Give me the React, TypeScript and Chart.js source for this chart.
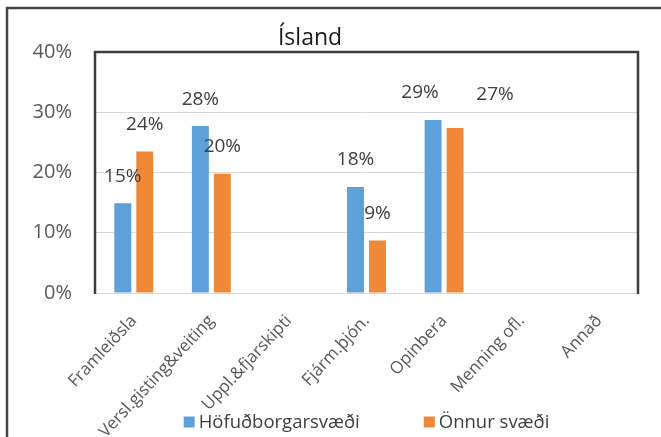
import { useEffect, useRef } from 'react';
import { Chart, registerables } from 'chart.js';

Chart.register(...registerables);

const chartTitle = 'Ísland';
const categories = [
  'Framleiðsla',
  'Versl.gisting&veiting',
  'Uppl.&fjarskipti',
  'Fjárm.þjón.',
  'Opinbera',
  'Menning ofl.',
  'Annað',
];
const seriesNames = ['Höfuðborgarsvæði', 'Önnur svæði'];
const hofudborgarsvaedi = [14.9, 27.7, null, 17.6, 28.7, null, null];
const onnurSvaedi = [23.5, 19.8, null, 8.7, 27.4, null, null];
const yTickValues = [0, 10, 20, 30, 40];

const FONT = '"Open Sans", "DejaVu Sans", sans-serif';
const colors = ['#5DA0DA', '#F0883A'];

// visual nudges for a couple of data labels (style only)
const labelShift: Record<string, [number, number]> = {
  '0-4': [-13, 0],
  '1-4': [40, -6],
};

const decorPlugin = {
  id: 'decor',
  beforeDraw(chart: any) {
    const { ctx, width, height } = chart;
    ctx.save();
    ctx.fillStyle = '#ffffff';
    ctx.fillRect(0, 0, width, height);
    ctx.strokeStyle = '#454545';
    ctx.lineWidth = 2.5;
    ctx.beginPath();
    ctx.moveTo(7, height + 2);
    ctx.lineTo(7, 8);
    ctx.lineTo(width + 2, 8);
    ctx.stroke();
    ctx.restore();
  },
  afterDatasetsDraw(chart: any) {
    const { ctx } = chart;
    ctx.save();
    ctx.font = `19px ${FONT}`;
    ctx.fillStyle = '#404040';
    ctx.textAlign = 'center';
    ctx.textBaseline = 'middle';
    chart.data.datasets.forEach((ds: any, di: number) => {
      const meta = chart.getDatasetMeta(di);
      meta.data.forEach((el: any, i: number) => {
        const v = ds.data[i];
        if (v === null || v === undefined) return;
        const shift = labelShift[`${di}-${i}`] || [0, 0];
        ctx.fillText(`${Math.round(v)}%`, el.x + shift[0], el.y - 27 + shift[1]);
      });
    });
    ctx.restore();
  },
  afterDraw(chart: any) {
    const { ctx, chartArea: a, width, height } = chart;
    ctx.save();
    // plot frame (left, top, right)
    ctx.strokeStyle = '#3c3c3c';
    ctx.lineWidth = 2.5;
    ctx.beginPath();
    ctx.moveTo(a.left, a.bottom + 1);
    ctx.lineTo(a.left, a.top);
    ctx.lineTo(a.right, a.top);
    ctx.lineTo(a.right, a.bottom + 1);
    ctx.stroke();

    // title
    ctx.font = `23px ${FONT}`;
    ctx.fillStyle = '#1a1a1a';
    ctx.textAlign = 'center';
    ctx.textBaseline = 'alphabetic';
    ctx.fillText(chartTitle, width * 0.469, 45);

    // legend
    ctx.font = `18.5px ${FONT}`;
    ctx.textBaseline = 'middle';
    ctx.textAlign = 'left';
    const box = 11;
    const gapText = 4;
    const gapItem = 64;
    const names = chart.data.datasets.map((d: any) => d.label);
    const widths = names.map((n: string) => box + gapText + ctx.measureText(n).width);
    const total = widths.reduce((s: number, w: number) => s + w, 0) + gapItem * (names.length - 1);
    let x = (a.left + a.right) / 2 - total / 2;
    const y = height - 15;
    names.forEach((n: string, i: number) => {
      ctx.fillStyle = chart.data.datasets[i].backgroundColor;
      ctx.fillRect(x, y - box / 2, box, box);
      ctx.fillStyle = '#404040';
      ctx.fillText(n, x + box + gapText, y + 1);
      x += widths[i] + gapItem;
    });
    ctx.restore();
  },
};

export default function App() {
  const ref = useRef<HTMLCanvasElement | null>(null);
  useEffect(() => {
    if (!ref.current) return;
    const chart = new Chart(ref.current, {
      type: 'bar',
      data: {
        labels: categories,
        datasets: [
          {
            label: seriesNames[0],
            data: hofudborgarsvaedi,
            backgroundColor: colors[0],
            barPercentage: 0.77,
            categoryPercentage: 0.567,
          },
          {
            label: seriesNames[1],
            data: onnurSvaedi,
            backgroundColor: colors[1],
            barPercentage: 0.77,
            categoryPercentage: 0.567,
          },
        ],
      },
      options: {
        animation: false,
        responsive: false,
        layout: { padding: { top: 52, left: 32, right: 23, bottom: 0 } },
        plugins: {
          legend: { display: false },
          title: { display: false },
          tooltip: { enabled: false },
        },
        scales: {
          x: {
            grid: { display: false },
            border: { color: '#d9d9d9', width: 1 },
            ticks: {
              font: { family: FONT, size: 17 },
              color: '#595959',
              maxRotation: 47,
              minRotation: 47,
              autoSkip: false,
              padding: 10,
            },
            afterFit: (s: any) => {
              s.height = 144;
            },
          },
          y: {
            min: 0,
            max: 40,
            afterBuildTicks: (s: any) => {
              s.ticks = yTickValues.map((v) => ({ value: v }));
            },
            ticks: {
              callback: (v: any) => `${v}%`,
              font: { family: FONT, size: 20 },
              color: '#595959',
              padding: 23,
            },
            grid: { color: '#d9d9d9', drawTicks: false },
            border: { display: false },
            afterFit: (s: any) => {
              s.width = 63;
            },
          },
        },
      },
      plugins: [decorPlugin],
    });
    return () => chart.destroy();
  }, []);
  return (
    <div style={{ position: 'fixed', left: 0, top: 0, width: 661, height: 437, background: '#fff' }}>
      <canvas ref={ref} width={661} height={437} />
    </div>
  );
}
